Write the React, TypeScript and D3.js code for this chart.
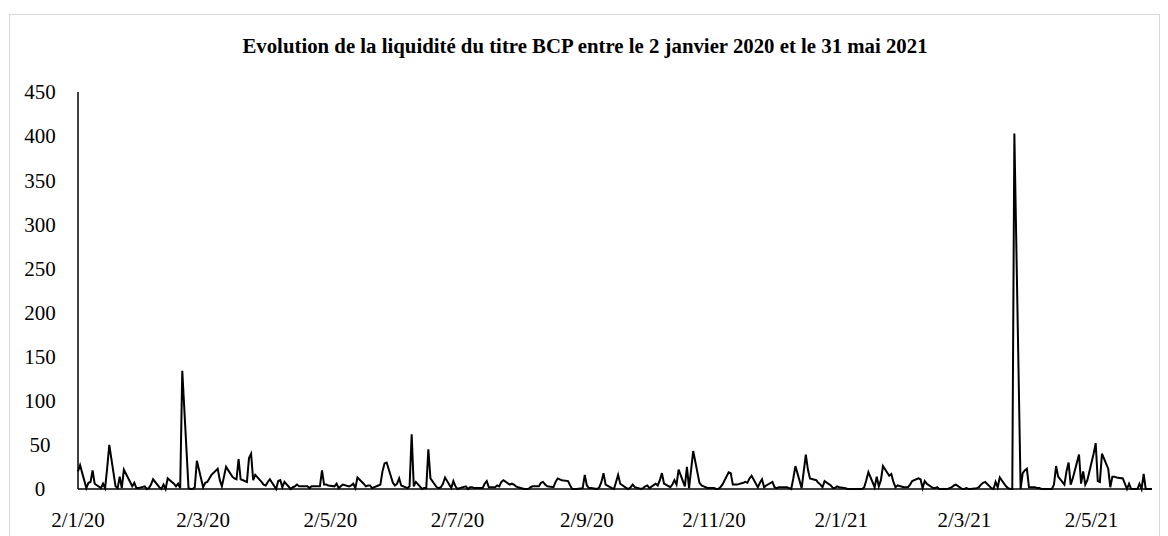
import React from "react";
import * as d3 from "d3";

// Liquidité journalière (jours ouvrés), un tableau par mois.
const jan20 = [20, 27, 1, 7, 8, 21, 6, 1, 6, 1, 24, 50, 3, 1, 14, 1, 22, 8, 3, 7, 1, 1];
const feb20 = [3, 0, 1, 5, 11, 2, 0, 5, 0, 12, 6, 3, 6, 1, 134, 1, 0, 0, 2, 32];
const mar20 = [2, 7, 8, 12, 16, 23, 10, 3, 14, 25, 14, 12, 11, 34, 11, 8, 35, 40, 10, 16, 8, 5];
const apr20 = [4, 8, 11, 0, 9, 10, 2, 8, 0, 2, 3, 5, 3, 3, 3, 1, 3, 3, 3, 21, 5, 5];
const may20 = [4, 3, 6, 1, 3, 5, 3, 4, 6, 1, 13, 6, 3, 4, 4, 1, 4, 5, 20, 29, 30];
const jun20 = [7, 4, 6, 12, 4, 1, 3, 62, 3, 8, 0, 1, 1, 45, 12, 2, 1, 2, 6, 13, 1, 9];
const jul20 = [3, 0, 1, 3, 0, 2, 2, 1, 1, 1, 6, 9, 2, 2, 4, 3, 8, 10, 5, 6, 5, 3, 2];
const aug20 = [0, 0, 0, 2, 3, 3, 7, 8, 5, 3, 2, 8, 12, 11, 10, 9, 4, 0, 0, 0, 1];
const sep20 = [16, 4, 1, 1, 0, 2, 8, 18, 5, 1, 0, 8, 16, 6, 1, 0, 2, 5, 2, 0, 1, 3];
const oct20 = [4, 1, 6, 4, 10, 18, 6, 2, 5, 10, 5, 22, 3, 25, 1, 22, 43, 7, 4, 3, 2, 1];
const nov20 = [1, 0, 0, 2, 5, 19, 18, 5, 5, 5, 7, 8, 7, 12, 15, 2, 7, 11, 2, 4, 8];
const dec20 = [2, 1, 2, 2, 2, 1, 0, 12, 26, 1, 20, 39, 22, 12, 10, 7, 5, 2, 9, 4, 1, 1, 3];
const jan21 = [2, 1, 0, 0, 0, 0, 0, 0, 2, 10, 19, 2, 14, 3, 10, 26, 15, 17, 8, 2, 4];
const feb21 = [2, 2, 2, 5, 9, 12, 11, 1, 9, 6, 1, 1, 2, 0, 0, 0, 1, 2, 4, 5];
const mar21 = [0, 0, 1, 0, 0, 1, 2, 5, 7, 8, 1, 0, 8, 2, 13, 3, 1, 0, 0, 403, 0, 18, 21];
const apr21 = [23, 2, 2, 1, 1, 0, 0, 0, 0, 5, 26, 14, 5, 20, 30, 5, 12, 39, 6, 20, 5, 10];
const may21 = [40, 52, 9, 8, 40, 23, 2, 14, 14, 13, 12, 6, 0, 6, 0, 0, 6, 0, 17, 0, 0];

const months = [
    { year: 2020, month: 0, firstDay: 2, values: jan20 },
    { year: 2020, month: 1, firstDay: 1, values: feb20 },
    { year: 2020, month: 2, firstDay: 1, values: mar20 },
    { year: 2020, month: 3, firstDay: 1, values: apr20 },
    { year: 2020, month: 4, firstDay: 1, values: may20 },
    { year: 2020, month: 5, firstDay: 1, values: jun20 },
    { year: 2020, month: 6, firstDay: 1, values: jul20 },
    { year: 2020, month: 7, firstDay: 1, values: aug20 },
    { year: 2020, month: 8, firstDay: 1, values: sep20 },
    { year: 2020, month: 9, firstDay: 1, values: oct20 },
    { year: 2020, month: 10, firstDay: 1, values: nov20 },
    { year: 2020, month: 11, firstDay: 1, values: dec20 },
    { year: 2021, month: 0, firstDay: 1, values: jan21 },
    { year: 2021, month: 1, firstDay: 1, values: feb21 },
    { year: 2021, month: 2, firstDay: 1, values: mar21 },
    { year: 2021, month: 3, firstDay: 1, values: apr21 },
    { year: 2021, month: 4, firstDay: 1, values: may21 },
];

const xTickLabels = ["2/1/20", "2/3/20", "2/5/20", "2/7/20", "2/9/20", "2/11/20", "2/1/21", "2/3/21", "2/5/21"];
const yTicks = [0, 50, 100, 150, 200, 250, 300, 350, 400, 450];

const title = "Evolution de la liquidité du titre BCP entre le 2 janvier 2020 et le 31 mai 2021";

interface IPoint {
    date: Date;
    value: number;
}

// Associe chaque valeur mensuelle au jour ouvré correspondant.
const buildPoints = (): IPoint[] => {
    const points: IPoint[] = [];
    months.forEach((m) => {
        let i = 0;
        const lastDay = new Date(m.year, m.month + 1, 0).getDate();
        for (let day = m.firstDay; day <= lastDay && i < m.values.length; day++) {
            const date = new Date(m.year, m.month, day);
            const wd = date.getDay();
            if (wd === 0 || wd === 6) {
                continue;
            }
            points.push({ date, value: m.values[i] });
            i++;
        }
    });

    return points;
};

const parseLabel = (label: string): Date => {
    const [d, m, y] = label.split("/").map(Number);

    return new Date(2000 + y, m - 1, d);
};

const width = 1168;
const height = 536;
const left = 78;
const right = 1152;
const top = 92;
const bottom = 489;
const font = "'Liberation Serif', 'Times New Roman', serif";

export default function App(): React.ReactElement {
    const data = buildPoints();

    const x = d3.scaleTime()
        .domain([new Date(2020, 0, 2), new Date(2021, 4, 31)])
        .range([left, right]);

    const y = d3.scaleLinear()
        .domain([0, 450])
        .range([bottom, top]);

    const line = d3.line<IPoint>()
        .x((d) => x(d.date))
        .y((d) => y(d.value));

    return (
        <svg
            width={width}
            height={height}
            style={{ position: "absolute", left: 0, top: 0, background: "#fff" }}
        >
            <rect x={9.5} y={14.5} width={1150} height={540} fill="#fff" stroke="#d9d9d9" strokeWidth={1} />
            <text
                x={585}
                y={53}
                textAnchor="middle"
                fontFamily={font}
                fontWeight="bold"
                fontSize={20.8}
                fill="#000"
            >
                {title}
            </text>

            {yTicks.map((t) => (
                <text
                    key={t}
                    x={40}
                    y={y(t)}
                    dy="0.35em"
                    textAnchor="middle"
                    fontFamily={font}
                    fontSize={21}
                    fill="#000"
                >
                    {t}
                </text>
            ))}

            {xTickLabels.map((l) => (
                <text
                    key={l}
                    x={x(parseLabel(l))}
                    y={527}
                    textAnchor="middle"
                    fontFamily={font}
                    fontSize={21}
                    fill="#000"
                >
                    {l}
                </text>
            ))}

            <path d={line(data) ?? ""} fill="none" stroke="#000" strokeWidth={2} strokeLinejoin="miter" />

            <line x1={left} x2={left} y1={top} y2={bottom} stroke="#000" strokeWidth={1.5} />
            <line x1={left} x2={right} y1={bottom} y2={bottom} stroke="#000" strokeWidth={1.5} />
        </svg>
    );
}
